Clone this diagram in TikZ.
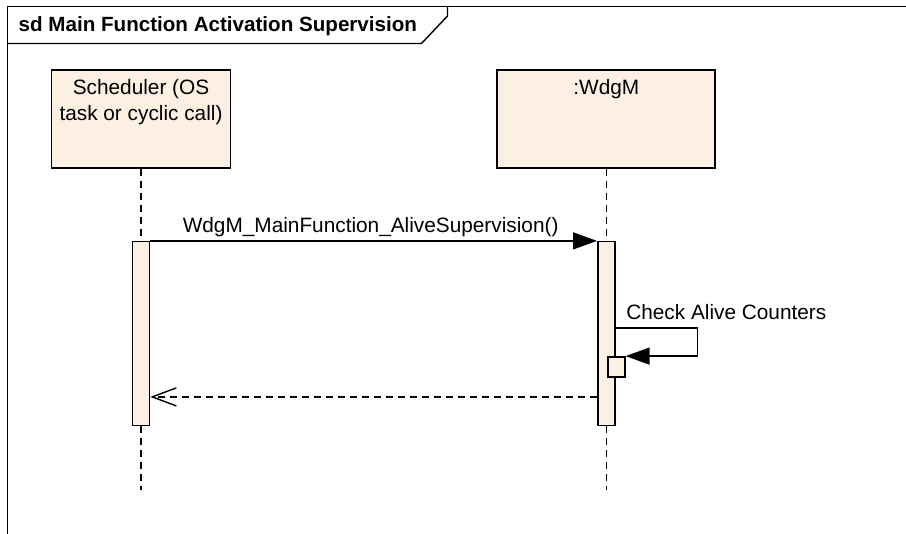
\documentclass[tikz,border=0pt]{standalone}
\usepackage{fontspec}
\setmainfont{Liberation Sans}
\usetikzlibrary{positioning}
\usetikzlibrary{arrows.meta}
\definecolor{lifefill}{RGB}{251,240,226}

\begin{document}
\begin{tikzpicture}[x=1pt, y=-1pt, line width=1.4pt, font=\fontsize{20.8}{26}\selectfont,
    lifebox/.style={draw, fill=lifefill, line width=1.8pt, minimum width=179pt, minimum height=98pt},
    actbar/.style={draw, fill=lifefill, line width=1.6pt, minimum width=17pt, minimum height=184pt, inner sep=0pt},
    lifeline/.style={dash pattern=on 7pt off 5pt},
    call/.style={-{Triangle[length=24pt,width=17pt]}},
    reply/.style={dash pattern=on 7pt off 5pt, -{Straight Barb[length=24pt,width=18pt]}}]

    \useasboundingbox (0,0) rectangle (906,534);

    % frame
    \draw (7.5,534) -- (7.5,6.5) -- (906,6.5);
    \draw (7.5,43.5) -- (421.5,43.5) -- (447.5,16) -- (447.5,6.5);
    \node(title)[anchor=base west, inner sep=0pt, font=\fontsize{20.6}{26}\selectfont\bfseries] at (18,31.5) {sd Main Function Activation Supervision};

    % lifelines
    \node(sched)[lifebox, label={[name=schedtxt, anchor=base, yshift=-51pt, align=center]north:Scheduler (OS\\task or cyclic call)}] at (141,119) {};
    \node(wdgm)[lifebox, minimum width=218pt, right=265pt of sched, label={[name=wdgmtxt, anchor=base, yshift=-25pt]north::WdgM}] {};

    \node(sbar)[actbar, below=72pt of sched] {};
    \node(wbar)[actbar, below=72pt of wdgm] {};
    \node(chk)[actbar, minimum height=20pt] at ([xshift=10pt,yshift=-126pt]wbar.north) {};

    \coordinate(schedend) at ([yshift=-64pt]sbar.south);
    \coordinate(wdgmend) at ([yshift=-64pt]wbar.south);

    \draw[lifeline] (sched) -- (sbar);
    \draw[lifeline] (sbar) -- (schedend);
    \draw[lifeline] (wdgm) -- (wbar);
    \draw[lifeline] (wbar) -- (wdgmend);

    % messages
    \draw[call] (sbar.north east) -- (wbar.north west) node(calllbl)[midway, anchor=base, inner sep=0pt, xshift=-3pt, yshift=8pt] {WdgM\_MainFunction\_AliveSupervision()};

    \draw[call] ([yshift=-87pt]wbar.north east) node(chklbl)[anchor=base west, inner sep=0pt, xshift=10pt, yshift=8pt] {Check Alive Counters} -- ++(82,0) |- (chk.north east);

    \coordinate(retstart) at ([yshift=-156pt]wbar.north west);
    \draw[reply] (retstart) -- (sbar.east |- retstart);

\end{tikzpicture}
\end{document}
